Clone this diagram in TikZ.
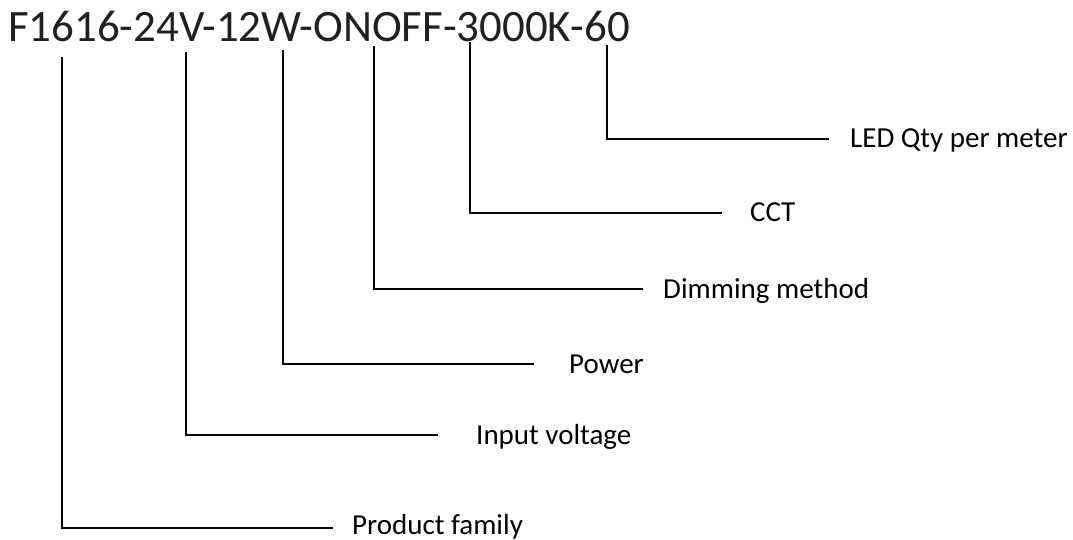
\documentclass[tikz,border=0pt]{standalone}
\usepackage{fontspec}
\setmainfont{Carlito}
\definecolor{titlecol}{HTML}{231F20}
\begin{document}
\begin{tikzpicture}[x=1pt,y=-1pt,
  lbl/.style={anchor=base west,inner sep=0pt,font=\fontsize{29}{31}\selectfont,text=black},
  lead/.style={draw=black,line width=2pt}]
\useasboundingbox (0,0) rectangle (1073,540);
\node[anchor=base west,inner sep=0pt,text=titlecol,font=\fontsize{44.9}{48}\selectfont] (title) at (8,42) {F1616-24V-12W-ONOFF-3000K-60};
% tops of leaders
\coordinate (t1) at (62,57);
\coordinate (t2) at (186,52);
\coordinate (t3) at (283,50);
\coordinate (t4) at (374,46);
\coordinate (t5) at (470,42);
\coordinate (t6) at (607,45);
% ends of leaders
\coordinate (e1) at (333,528);
\coordinate (e2) at (438,435);
\coordinate (e3) at (534,364);
\coordinate (e4) at (643,289);
\coordinate (e5) at (722,213);
\coordinate (e6) at (829,139);
% labels
\node[lbl] (l1) at (352,534) {Product family};
\node[lbl] (l2) at (476,444) {Input voltage};
\node[lbl] (l3) at (569,373) {Power};
\node[lbl] (l4) at (663,298) {Dimming method};
\node[lbl] (l5) at (750,222) {CCT};
\node[lbl] (l6) at (850,148) {LED Qty per meter};
\draw[lead] (t1) |- (e1);
\draw[lead] (t2) |- (e2);
\draw[lead] (t3) |- (e3);
\draw[lead] (t4) |- (e4);
\draw[lead] (t5) |- (e5);
\draw[lead] (t6) |- (e6);
\end{tikzpicture}
\end{document}
